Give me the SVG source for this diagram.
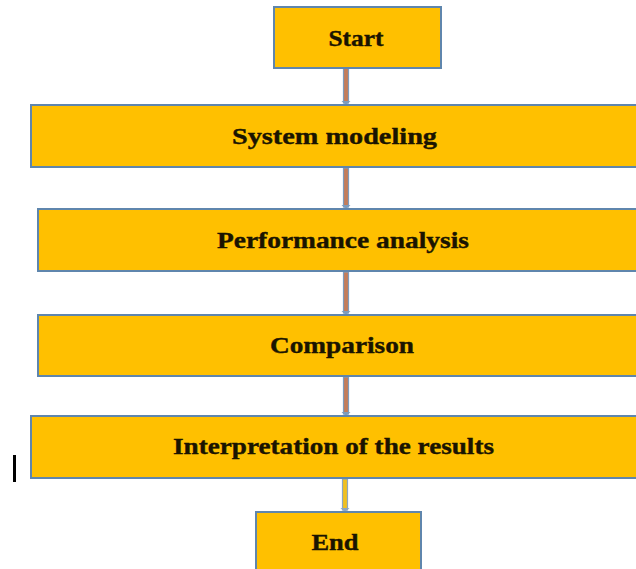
<svg xmlns="http://www.w3.org/2000/svg" width="636" height="569" viewBox="0 0 636 569">
<style>
.box{fill:#FFC000;stroke:#5f86ad;stroke-width:2}
.lbl{font-family:"Liberation Serif","DejaVu Serif",serif;font-weight:bold;font-size:24px;fill:#1a1400;stroke:#1a1400;stroke-width:0.4;text-anchor:middle}
.conn{fill:#c47d5a;stroke:#7e9cbd;stroke-width:1.2}
.conn2{fill:#f0c020;stroke:#8ea6c0;stroke-width:1.2}
</style>
<rect width="636" height="569" fill="#ffffff"/>
<g id="connectors">
<rect class="conn" x="343.5" y="68" width="5" height="35"/>
<path d="M341.5 101 L350.5 101 L346 105 Z" fill="#7e9cbd"/>
<rect class="conn" x="343.5" y="168" width="5" height="39"/>
<path d="M341.5 205 L350.5 205 L346 209 Z" fill="#7e9cbd"/>
<rect class="conn" x="343.5" y="272" width="5" height="41"/>
<path d="M341.5 311 L350.5 311 L346 315 Z" fill="#7e9cbd"/>
<rect class="conn" x="343.5" y="377" width="5" height="37"/>
<path d="M341.5 412 L350.5 412 L346 416 Z" fill="#7e9cbd"/>
<rect class="conn2" x="342.5" y="479" width="5" height="31"/>
<path d="M340.5 508 L349.5 508 L345 512 Z" fill="#8ea6c0"/>
</g>
<g id="start">
<rect class="box" x="274" y="7" width="167" height="61"/>
<text class="lbl" x="356" y="46" textLength="55" lengthAdjust="spacingAndGlyphs">Start</text>
</g>
<g id="system-modeling">
<rect class="box" x="31" y="105" width="610" height="62"/>
<text class="lbl" x="334.5" y="144" textLength="205" lengthAdjust="spacingAndGlyphs">System modeling</text>
</g>
<g id="performance-analysis">
<rect class="box" x="38" y="209" width="603" height="62"/>
<text class="lbl" x="343" y="248" textLength="252" lengthAdjust="spacingAndGlyphs">Performance analysis</text>
</g>
<g id="comparison">
<rect class="box" x="38" y="315" width="603" height="61"/>
<text class="lbl" x="342" y="353" textLength="144" lengthAdjust="spacingAndGlyphs">Comparison</text>
</g>
<g id="interpretation">
<rect class="box" x="31" y="416" width="610" height="62"/>
<text class="lbl" x="333.5" y="454" textLength="321" lengthAdjust="spacingAndGlyphs">Interpretation of the results</text>
</g>
<g id="end">
<rect class="box" x="256" y="512" width="165" height="62"/>
<text class="lbl" x="335" y="550" textLength="47" lengthAdjust="spacingAndGlyphs">End</text>
</g>
<rect x="13" y="455" width="3" height="27" fill="#000000"/>
</svg>
